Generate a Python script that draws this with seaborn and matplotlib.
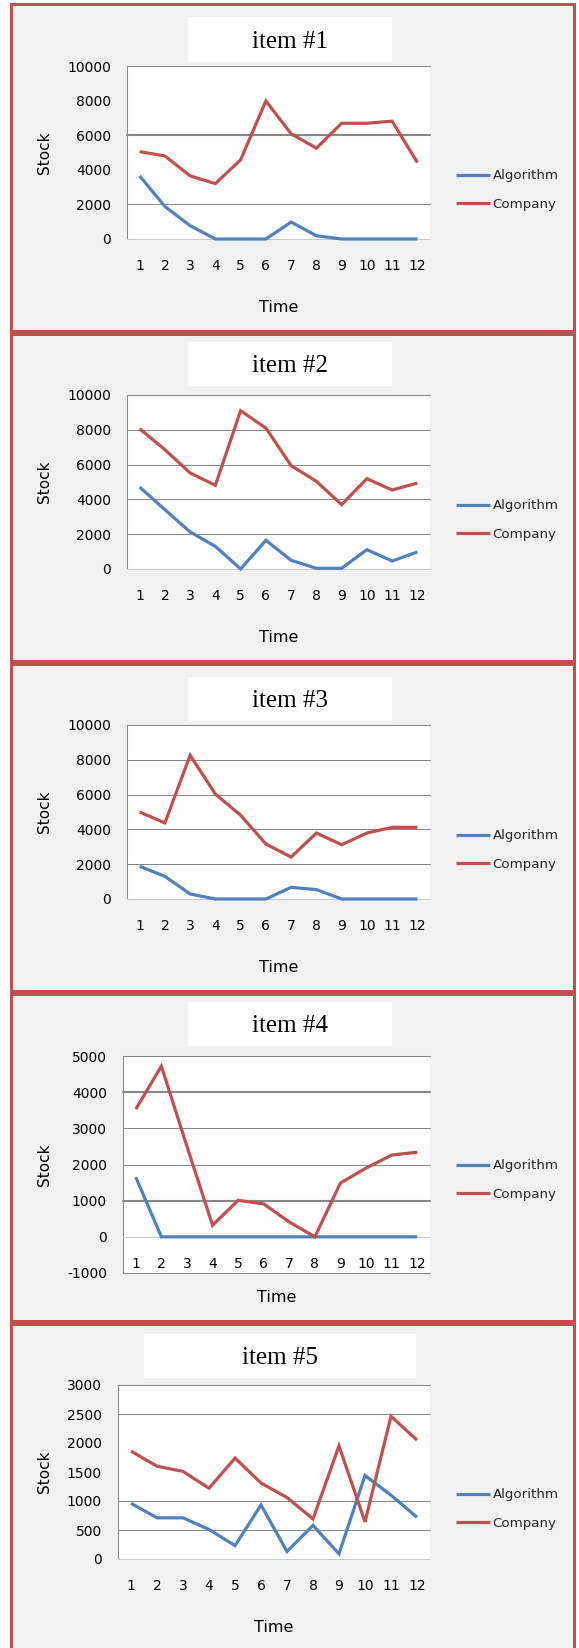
import matplotlib
matplotlib.use("Agg")
import matplotlib.pyplot as plt
import pandas as pd
import seaborn as sns
from matplotlib.patches import Rectangle

# ---- data -------------------------------------------------------------
periods = list(range(1, 13))
series_names = ["Algorithm", "Company"]
titles = ["item #1", "item #2", "item #3", "item #4", "item #5"]

item1_algorithm = [3650, 1880, 770, 0, 0, 0, 980, 190, 0, 0, 0, 0]
item1_company = [5050, 4800, 3650, 3200, 4580, 7980, 6080, 5250, 6690, 6690, 6810, 4420]

item2_algorithm = [4710, 3410, 2130, 1300, 0, 1650, 500, 40, 40, 1110, 460, 980]
item2_company = [8060, 6860, 5520, 4810, 9100, 8100, 5940, 5040, 3700, 5190, 4540, 4940]

item3_algorithm = [1880, 1300, 290, 0, 0, 0, 670, 540, 0, 0, 0, 0]
item3_company = [5000, 4370, 8260, 6030, 4810, 3160, 2410, 3790, 3120, 3790, 4120, 4120]

item4_algorithm = [1650, 0, 0, 0, 0, 0, 0, 0, 0, 0, 0, 0]
item4_company = [3530, 4720, 2500, 320, 1010, 910, 410, 0, 1490, 1900, 2260, 2340]

item5_algorithm = [960, 710, 710, 510, 230, 930, 130, 580, 90, 1440, 1100, 720]
item5_company = [1860, 1600, 1510, 1220, 1740, 1310, 1060, 690, 1950, 640, 2460, 2050]

y_ticks = [
    [0, 2000, 4000, 6000, 8000, 10000],
    [0, 2000, 4000, 6000, 8000, 10000],
    [0, 2000, 4000, 6000, 8000, 10000],
    [-1000, 0, 1000, 2000, 3000, 4000, 5000],
    [0, 500, 1000, 1500, 2000, 2500, 3000],
]

algorithm_series = [item1_algorithm, item2_algorithm, item3_algorithm,
                    item4_algorithm, item5_algorithm]
company_series = [item1_company, item2_company, item3_company,
                  item4_company, item5_company]

# ---- styling / layout (pixel units on a 579 x 1648 canvas) -------------
W, H = 579, 1648
RED = "#c0504d"
BLUE = "#4f81bd"
GRID = "#878787"
PANEL_BG = "#f1f1f1"

# plot box (x0, y0, x1, y1), title box, legend centre y, drawn grid levels
layout = [
    dict(plot=(127, 66, 430, 239), title=(188, 17, 392, 62), leg=190,
         grid=[(2000, 1), (6000, 2)]),
    dict(plot=(127, 395, 430, 569), title=(188, 342, 392, 386), leg=520,
         grid=[(2000, 1), (4000, 1), (6000, 1), (8000, 1)]),
    dict(plot=(127, 725, 430, 899), title=(188, 677, 392, 721), leg=850,
         grid=[(2000, 1), (4000, 1), (6000, 1), (8000, 1)]),
    dict(plot=(123, 1056, 430, 1273), title=(188, 1002, 392, 1046), leg=1180,
         grid=[(-1000, 1), (1000, 2), (2000, 1), (3000, 1), (4000, 2)]),
    dict(plot=(118, 1385, 430, 1559), title=(144, 1334, 416, 1378), leg=1509,
         grid=[(500, 1), (1000, 1), (2500, 1)]),
]

sns.set_style("white")
plt.rcParams["font.family"] = ["DejaVu Sans"]

fig = plt.figure(figsize=(W / 100, H / 100), dpi=100)
fig.patch.set_facecolor("white")


def fx(x):
    return x / W


def fy(y):
    return 1 - y / H


def frect(x0, y0, x1, y1, **kw):
    fig.add_artist(Rectangle((fx(x0), fy(y1)), fx(x1) - fx(x0), fy(y0) - fy(y1),
                             transform=fig.transFigure, **kw))


# grey panel background with red frame and separators
frect(10, 3, 576, 1648, facecolor=PANEL_BG, edgecolor="none", zorder=0)
frect(10, 3, 13, 1648, facecolor=RED, edgecolor="none", zorder=1)
frect(573, 3, 576, 1648, facecolor=RED, edgecolor="none", zorder=1)
frect(10, 3, 576, 5.5, facecolor=RED, edgecolor="none", zorder=1)
for sep in (330, 660, 990, 1320):
    frect(10, sep, 576, sep + 5.5, facecolor=RED, edgecolor="none", zorder=1)

palette = {"Algorithm": BLUE, "Company": RED}

for i in range(5):
    cfg = layout[i]
    x0, y0, x1, y1 = cfg["plot"]
    ax = fig.add_axes([fx(x0), fy(y1), fx(x1) - fx(x0), fy(y0) - fy(y1)])
    ax.set_facecolor("white")

    df = pd.DataFrame({
        "Time": periods * 2,
        "Stock": algorithm_series[i] + company_series[i],
        "series": ["Algorithm"] * 12 + ["Company"] * 12,
    })
    sns.lineplot(data=df, x="Time", y="Stock", hue="series",
                 hue_order=series_names, palette=palette, linewidth=2.3,
                 ax=ax, zorder=5)
    for ln in ax.lines:
        ln.set_clip_on(False)
        ln.set_solid_capstyle("butt")
        ln.set_solid_joinstyle("miter")

    ticks = y_ticks[i]
    ax.set_xlim(0.5, 12.5)
    ax.set_ylim(ticks[0], ticks[-1])
    ax.set_yticks(ticks)
    ax.set_yticklabels([str(t) for t in ticks])
    ax.set_xticks(periods)
    ax.set_xticklabels([str(p) for p in periods])
    ax.tick_params(axis="both", length=0, labelsize=10, colors="black")
    ax.tick_params(axis="y", pad=11.5)
    ax.tick_params(axis="x", pad=14.5)

    for level, w in cfg["grid"]:
        ax.axhline(level, color=GRID, linewidth=0.75 * w, zorder=1, clip_on=False)

    ax.spines["right"].set_visible(False)
    for side in ("left", "top", "bottom"):
        ax.spines[side].set_color(GRID)
        ax.spines[side].set_linewidth(0.75)
    ax.spines["bottom"].set_position(("data", 0))
    ax.spines["bottom"].set_color("#c8c8c8")

    ax.set_xlabel("Time", fontsize=11.5, color="black")
    ax.set_ylabel("Stock", fontsize=11, color="black")
    ph = y1 - y0
    pw = x1 - x0
    time_y = 24 if i == 3 else 68
    ax.xaxis.set_label_coords(0.5, -time_y / ph)
    ax.xaxis.label.set_va("center")
    ax.yaxis.set_label_coords((45 - x0) / pw, 0.5)
    ax.yaxis.label.set_va("center")

    handles, labels = ax.get_legend_handles_labels()
    ax.legend(handles, labels, loc="center left",
              bbox_to_anchor=(fx(456), fy(cfg["leg"])),
              bbox_transform=fig.transFigure, frameon=False, fontsize=9.6,
              handlelength=2.55, handletextpad=0.2, labelspacing=1.15,
              borderpad=0, borderaxespad=0)

    tx0, ty0, tx1, ty1 = cfg["title"]
    frect(tx0, ty0, tx1, ty1, facecolor="white", edgecolor="none", zorder=2)
    fig.text(fx((tx0 + tx1) / 2), fy((ty0 + ty1) / 2 + 2), titles[i],
             family="Liberation Serif", fontsize=18, ha="center", va="center",
             color="black", zorder=3)

fig.savefig("out.png", dpi=100, facecolor="white")
